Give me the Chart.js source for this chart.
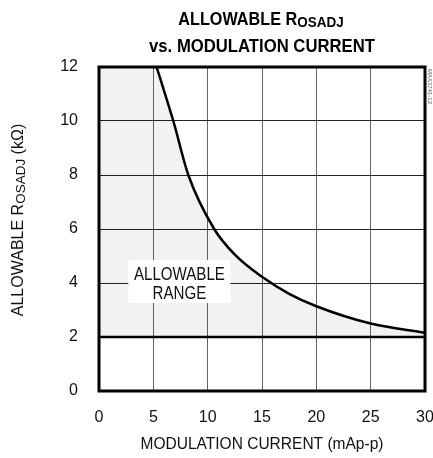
<!DOCTYPE html>
<html>
<head>
<meta charset="utf-8">
<script src="https://cdn.jsdelivr.net/npm/chart.js@4"></script>
<style>
  html, body { margin: 0; padding: 0; background: #fff; }
  #wrap { width: 433px; height: 458px; }
</style>
</head>
<body>
<div id="wrap"><canvas id="chart"></canvas></div>
<script>
// values
var currentMa = [5.3, 6.84, 8.22, 10.6, 12.5, 15, 17.5, 20, 25, 30];
var rosadjK = [12, 10, 8, 6, 5.05, 4.23, 3.6, 3.14, 2.5, 2.16];
var minLimit = 2;
var xTicks = [0, 5, 10, 15, 20, 25, 30];
var yTicks = [0, 2, 4, 6, 8, 10, 12];

var FONT = '"Liberation Sans", Arial, sans-serif';

var curve = currentMa.map(function (x, i) { return { x: x, y: rosadjK[i] }; });
var region = [{ x: 0, y: 12 }].concat(curve);

// text with a smaller lowered part, optionally squeezed horizontally
function drawMixed(ctx, parts, x, y, align, squeeze) {
    squeeze = squeeze || 1;
    var total = 0;
    parts.forEach(function (p) { ctx.font = p.font; total += ctx.measureText(p.text).width; });
    ctx.save();
    ctx.translate(x, y);
    ctx.scale(squeeze, 1);
    var cx = align === 'center' ? -total / 2 : 0;
    parts.forEach(function (p) {
        ctx.font = p.font;
        ctx.textAlign = 'left';
        ctx.fillText(p.text, cx, p.dy || 0);
        cx += ctx.measureText(p.text).width;
    });
    ctx.restore();
}

var decor = {
    id: 'decor',
    afterDatasetsDraw: function (chart) {
        var ctx = chart.ctx;
        var a = chart.chartArea;
        var xs = chart.scales.x, ys = chart.scales.y;
        ctx.save();

        // frame
        ctx.strokeStyle = '#000';
        ctx.lineWidth = 3;
        ctx.strokeRect(a.left, a.top, a.right - a.left, a.bottom - a.top);

        // region label
        var bx = xs.getPixelForValue(2.7), bw = xs.getPixelForValue(12.1) - bx;
        var by = ys.getPixelForValue(4.85), bh = ys.getPixelForValue(3.26) - by;
        ctx.fillStyle = '#fff';
        ctx.fillRect(bx, by, bw, bh);
        ctx.fillStyle = '#111';
        ctx.textBaseline = 'middle';
        drawMixed(ctx, [{ text: 'ALLOWABLE', font: '18px ' + FONT }], bx + bw / 2, by + bh * 0.35, 'center', 0.84);
        drawMixed(ctx, [{ text: 'RANGE', font: '18px ' + FONT }], bx + bw / 2, by + bh * 0.8, 'center', 0.84);

        // title
        var cx = (a.left + a.right) / 2;
        ctx.fillStyle = '#000';
        ctx.textBaseline = 'alphabetic';
        drawMixed(ctx, [
            { text: 'ALLOWABLE R', font: 'bold 18px ' + FONT },
            { text: 'OSADJ', font: 'bold 15px ' + FONT, dy: 2 }
        ], cx - 1, 25, 'center', 0.9);
        drawMixed(ctx, [{ text: 'vs. MODULATION CURRENT', font: 'bold 18px ' + FONT }], cx, 52, 'center', 0.927);

        // x axis title
        ctx.fillStyle = '#111';
        drawMixed(ctx, [{ text: 'MODULATION CURRENT (mAp-p)', font: '16px ' + FONT }], cx, 449, 'center', 0.97);

        // y axis title
        ctx.save();
        ctx.translate(23, 220);
        ctx.rotate(-Math.PI / 2);
        drawMixed(ctx, [
            { text: 'ALLOWABLE R', font: '16px ' + FONT },
            { text: 'OSADJ', font: '13.5px ' + FONT, dy: 1.5 },
            { text: ' (k\u03A9)', font: '16px ' + FONT }
        ], 0, 0, 'center', 1);
        ctx.restore();

        // figure code
        ctx.save();
        ctx.translate(428, a.top + 2);
        ctx.rotate(Math.PI / 2);
        ctx.font = '6px ' + FONT;
        ctx.fillStyle = '#555';
        ctx.textAlign = 'left';
        ctx.fillText('MAX3741-12', 0, 0);
        ctx.restore();

        ctx.restore();
    }
};

new Chart(document.getElementById('chart'), {
    type: 'scatter',
    data: {
        datasets: [{
            data: region,
            showLine: true,
            borderWidth: 0,
            pointRadius: 0,
            backgroundColor: 'rgba(0,0,0,0.05)',
            fill: { value: minLimit },
            cubicInterpolationMode: 'monotone'
        }, {
            data: curve,
            showLine: true,
            borderColor: '#000',
            borderWidth: 2.5,
            pointRadius: 0,
            cubicInterpolationMode: 'monotone',
            fill: false
        }, {
            data: [{ x: 0, y: minLimit }, { x: 30, y: minLimit }],
            showLine: true,
            borderColor: '#000',
            borderWidth: 2.5,
            pointRadius: 0,
            fill: false
        }]
    },
    options: {
        responsive: true,
        maintainAspectRatio: false,
        animation: false,
        layout: { padding: { left: 0, top: 67, right: 8, bottom: 0 } },
        plugins: { legend: { display: false }, tooltip: { enabled: false } },
        scales: {
            x: {
                type: 'linear',
                min: 0, max: 30,
                afterFit: function (s) { s.height = 67; s.paddingLeft = 0; s.paddingRight = 0; },
                afterBuildTicks: function (s) { s.ticks = xTicks.map(function (v) { return { value: v }; }); },
                grid: { color: '#666', lineWidth: 1, drawTicks: false },
                border: { display: false },
                ticks: { padding: 17, color: '#111', font: { family: FONT, size: 16 } }
            },
            y: {
                type: 'linear',
                min: 0, max: 12,
                afterFit: function (s) { s.width = 99; s.paddingTop = 0; s.paddingBottom = 0; },
                afterBuildTicks: function (s) { s.ticks = yTicks.map(function (v) { return { value: v }; }); },
                grid: { color: '#222', lineWidth: 1, drawTicks: false },
                border: { display: false },
                ticks: { padding: 21, color: '#111', font: { family: FONT, size: 16 } }
            }
        }
    },
    plugins: [decor]
});
</script>
</body>
</html>
